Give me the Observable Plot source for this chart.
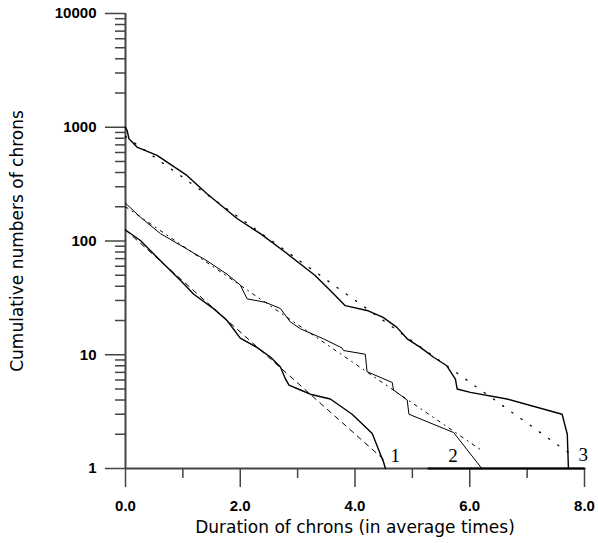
<!DOCTYPE html>
<html><head><meta charset="utf-8">
<script src="https://cdn.jsdelivr.net/npm/d3@7"></script>
<script src="https://cdn.jsdelivr.net/npm/@observablehq/plot@0.6"></script>
<style>body{margin:0;background:#fff} #chart svg{display:block}</style>
</head><body><div id="chart"></div>
<script>
// Curve 3 (top)
const curve3X = [0, 0.03, 0.06, 0.2, 0.55, 1.07, 1.42, 1.95, 2.35, 2.78, 3.30, 3.57, 3.83, 4.21, 4.49, 4.73, 4.91, 5.14, 5.37, 5.60, 5.75, 5.78, 6.01, 6.65, 7.61, 7.70, 7.72];
const curve3Y = [1000, 930, 794, 670, 566, 377, 260, 157, 116, 80, 50, 36.7, 27, 24.5, 21.3, 17.4, 13.8, 11.6, 9.5, 8.0, 6.1, 5.0, 4.67, 4.08, 3.0, 2.0, 1];
// Curve 2 (middle)
const curve2X = [0, 0.26, 0.61, 1.02, 1.42, 1.77, 2.0, 2.12, 2.44, 2.70, 2.87, 3.05, 3.45, 3.77, 3.80, 4.18, 4.21, 4.65, 4.67, 4.91, 4.94, 5.72, 6.21];
const curve2Y = [215, 162, 116, 88, 67, 51, 41, 31, 28.9, 25.5, 19.5, 16.9, 13.8, 11.5, 10.9, 10.1, 7.1, 5.7, 4.9, 4.0, 3.0, 2.07, 1];
// Curve 1 (bottom)
const curve1X = [0, 0.05, 0.26, 0.61, 0.96, 1.19, 1.54, 1.77, 2.0, 2.29, 2.53, 2.70, 2.79, 2.85, 3.05, 3.22, 3.57, 3.95, 4.30, 4.50, 4.53];
const curve1Y = [125, 120, 101, 67, 45, 34, 25.3, 20, 14, 11.6, 9.5, 7.8, 6.1, 5.4, 4.9, 4.5, 4.08, 3.0, 2.03, 1.13, 1];
// Segment lying on the baseline
const tailX = [5.28, 8.0];
const tailY = [1, 1];
// Fitted lines
const fit1X = [0, 4.5], fit1Y = [125, 1.2];
const fit2X = [0, 6.2], fit2Y = [200, 1.45];
const fit3X = [0, 7.72], fit3Y = [830, 1.38];
// Curve numbers
const labelText = ["1", "2", "3"];
const labelX = [4.70, 5.71, 7.98];
const labelY = [1.29, 1.29, 1.33];
// Ticks
const yMajor = [1, 10, 100, 1000, 10000];
const yMinor = [2,3,4,5,6,7,8,9,20,30,40,50,60,70,80,90,200,300,400,500,600,700,800,900,2000,3000,4000,5000,6000,7000,8000,9000];
const xMajor = [0, 2, 4, 6, 8];
const xMinor = [1, 3, 5, 7];

const rows = (xs, ys) => xs.map((x, i) => ({x, y: ys[i]}));
const labels = labelText.map((t, i) => ({t, x: labelX[i], y: labelY[i]}));
const axisColor = "#444";
const titleFont = "'DejaVu Sans', Verdana, sans-serif";

const plot = Plot.plot({
  width: 598, height: 543,
  marginLeft: 125, marginRight: 14, marginTop: 13, marginBottom: 75,
  style: {background: "#fff", color: "#000", fontFamily: "'Liberation Sans', Arial, sans-serif", fontSize: "15px", fontWeight: "bold"},
  x: {domain: [0, 8]},
  y: {type: "log", domain: [1, 10000]},
  marks: [
    Plot.axisY(yMinor, {tickSize: 10, tickFormat: () => "", stroke: axisColor, strokeWidth: 1.5, label: null}),
    Plot.axisY(yMajor, {tickSize: 20, tickPadding: 9, tickFormat: d => String(d), stroke: axisColor, strokeWidth: 1.5, label: null}),
    Plot.axisX(xMinor, {tickSize: 10, tickFormat: () => "", stroke: axisColor, strokeWidth: 1.5, label: null}),
    Plot.axisX(xMajor, {tickSize: 19, tickPadding: 13, tickFormat: d => d.toFixed(1), stroke: axisColor, strokeWidth: 1.5, label: null}),
    Plot.ruleX([0], {y1: 1, y2: 10000, stroke: axisColor, strokeWidth: 2}),
    Plot.ruleY([1], {x1: 0, x2: 8, stroke: axisColor, strokeWidth: 2}),
    Plot.line(rows(tailX, tailY), {x: "x", y: "y", stroke: "#000", strokeWidth: 2}),
    Plot.line(rows(fit1X, fit1Y), {x: "x", y: "y", stroke: "#000", strokeWidth: 1, strokeDasharray: "5,5"}),
    Plot.line(rows(fit2X, fit2Y), {x: "x", y: "y", stroke: "#000", strokeWidth: 1, strokeDasharray: "3,5,1,5"}),
    Plot.line(rows(fit3X, fit3Y), {x: "x", y: "y", stroke: "#000", strokeWidth: 1.3, strokeDasharray: "1.3,10"}),
    Plot.line(rows(curve1X, curve1Y), {x: "x", y: "y", stroke: "#000", strokeWidth: 1.4}),
    Plot.line(rows(curve2X, curve2Y), {x: "x", y: "y", stroke: "#000", strokeWidth: 1}),
    Plot.line(rows(curve3X, curve3Y), {x: "x", y: "y", stroke: "#000", strokeWidth: 1.4}),
    Plot.text(labels, {x: "x", y: "y", text: "t", fontSize: 19, fontWeight: "normal", fontFamily: "'Liberation Serif', 'Times New Roman', serif", fill: "#000"}),
    Plot.text(["Cumulative numbers of chrons"], {frameAnchor: "left", textAnchor: "middle", lineAnchor: "middle", dx: -108, rotate: -90, fontSize: 17, fontWeight: "normal", fontFamily: titleFont, fill: "#000"}),
    Plot.text(["Duration of chrons (in average times)"], {frameAnchor: "bottom", textAnchor: "middle", lineAnchor: "middle", dy: 59, fontSize: 17, fontWeight: "normal", fontFamily: titleFont, fill: "#000"})
  ]
});
document.getElementById("chart").appendChild(plot);
</script>
</body></html>
